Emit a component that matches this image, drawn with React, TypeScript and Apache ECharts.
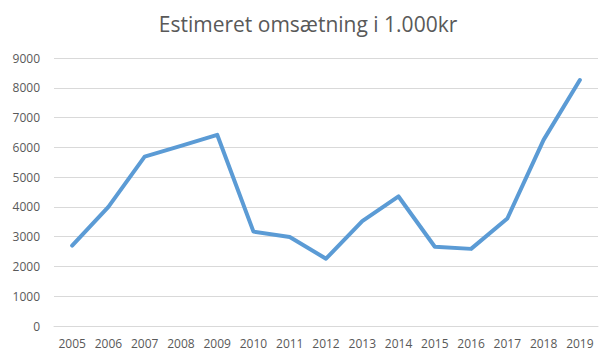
import React, { useEffect, useRef } from "react";
import * as echarts from "echarts";

const years = ["2005","2006","2007","2008","2009","2010","2011","2012","2013","2014","2015","2016","2017","2018","2019"];
const revenue = [2700, 4000, 5690, 6050, 6420, 3170, 2990, 2260, 3520, 4350, 2660, 2590, 3610, 6250, 8260];
const title = "Estimeret omsætning i 1.000kr";

export default function App() {
  const ref = useRef<HTMLDivElement>(null);
  useEffect(() => {
    if (!ref.current) return;
    const chart = echarts.init(ref.current, undefined, { renderer: "svg" });
    chart.setOption({
      animation: false,
      backgroundColor: "#ffffff",
      title: {
        text: title,
        left: "center",
        top: 8,
        textStyle: { color: "#595959", fontSize: 21, fontWeight: "normal", fontFamily: "Open Sans" },
      },
      grid: { left: 54, right: 18, top: 58, bottom: 33 },
      xAxis: {
        type: "category",
        data: years,
        boundaryGap: true,
        axisLine: { show: true, lineStyle: { color: "#d9d9d9", width: 1 } },
        axisTick: { show: false },
        axisLabel: { color: "#595959", fontSize: 12, fontFamily: "Open Sans", margin: 11, interval: 0 },
      },
      yAxis: {
        type: "value",
        min: 0,
        max: 9000,
        interval: 1000,
        axisLine: { show: false },
        axisTick: { show: false },
        axisLabel: { color: "#595959", fontSize: 12, fontFamily: "Open Sans", margin: 14, formatter: (v: number) => String(v) },
        splitLine: { lineStyle: { color: "#d9d9d9", width: 1 } },
      },
      series: [
        {
          type: "line",
          data: revenue,
          symbol: "none",
          lineStyle: { color: "#5b9bd5", width: 4, cap: "round", join: "round" },
        },
      ],
    });
    return () => chart.dispose();
  }, []);
  return <div ref={ref} style={{ position: "absolute", left: 0, top: 0, width: 616, height: 359 }} />;
}
